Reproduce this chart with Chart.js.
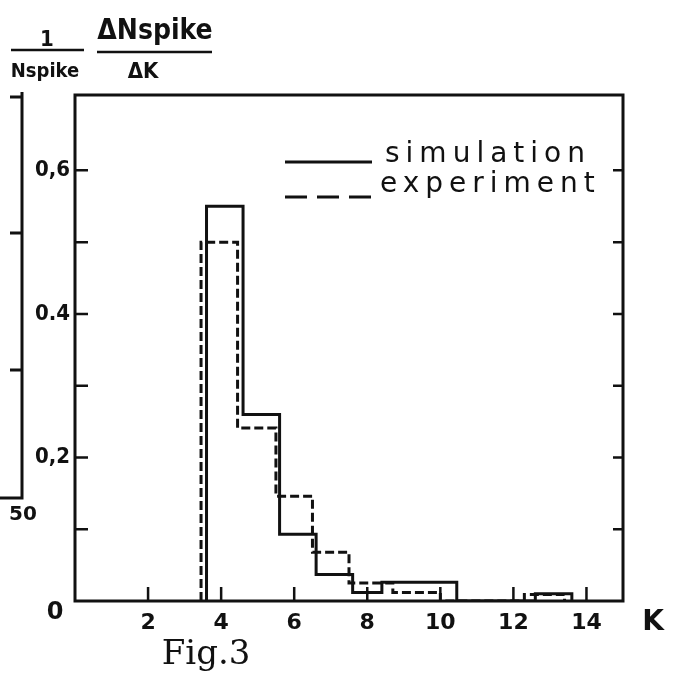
<!DOCTYPE html>
<html>
<head>
<meta charset="utf-8">
<script src="https://cdn.jsdelivr.net/npm/chart.js@4.4.1/dist/chart.umd.min.js"></script>
<style>
    html, body { margin: 0; padding: 0; background: #fff; }
    #chart_box { width: 674px; height: 675px; }
</style>
</head>
<body>
<div id="chart_box"><canvas id="spikeChart" width="674" height="675"></canvas></div>
<script>
// histogram edges (k) and normalised heights
const sim_edges = [3.6, 4.6, 5.6, 6.6, 7.6, 8.4, 10.45, 12.6, 13.6];
const sim_heights = [0.55, 0.26, 0.093, 0.037, 0.012, 0.026, 0, 0.01];
const exp_edges = [3.45, 4.45, 5.5, 6.5, 7.5, 8.7, 10.0, 12.3, 13.4];
const exp_heights = [0.50, 0.241, 0.146, 0.068, 0.025, 0.012, 0, 0.009];

const x_tick_values = [2, 4, 6, 8, 10, 12, 14];
const y_tick_values = [0.2, 0.4, 0.6];
const y_tick_labels = ['0,2', '0.4', '0,6'];
const y_minor_values = [0.1, 0.2, 0.3, 0.4, 0.5, 0.6];
const series_names = ['simulation', 'experiment'];

/**
 * Turn bin edges + heights into outline points for a stepped line
 */
function build_outline(edges, heights) {
    const points = [{ x: edges[0], y: 0 }];
    heights.forEach((h, i) => points.push({ x: edges[i], y: h }));
    points.push({ x: edges[edges.length - 1], y: 0 });
    return points;
}

const ink = '#111';

// frame, inward ticks, legend, titles and the cut-off neighbour panel
const sketch_plugin = {
    id: 'sketch_extras',
    afterDraw(chart) {
        const ctx = chart.ctx;
        const area = chart.chartArea;
        const x_scale = chart.scales.x;
        const y_scale = chart.scales.y;

        ctx.save();
        ctx.strokeStyle = ink;
        ctx.fillStyle = ink;
        ctx.lineCap = 'butt';

        // frame
        ctx.lineWidth = 3;
        ctx.strokeRect(area.left, area.top, area.right - area.left, area.bottom - area.top);

        // inward ticks
        ctx.lineWidth = 2.5;
        ctx.beginPath();
        y_minor_values.forEach(v => {
            const py = y_scale.getPixelForValue(v);
            ctx.moveTo(area.left, py);
            ctx.lineTo(area.left + 13, py);
            ctx.moveTo(area.right, py);
            ctx.lineTo(area.right - 10, py);
        });
        x_tick_values.forEach(v => {
            const px = x_scale.getPixelForValue(v);
            ctx.moveTo(px, area.bottom);
            ctx.lineTo(px, area.bottom - 14);
        });
        ctx.stroke();

        // origin "0" and axis name
        ctx.textAlign = 'center';
        ctx.textBaseline = 'middle';
        ctx.font = 'bold 24px "DejaVu Sans"';
        ctx.fillText('0', area.left - 20, area.bottom + 12);
        ctx.font = 'bold 28px "DejaVu Sans"';
        ctx.fillText('K', 653, area.bottom + 22);

        ctx.font = '34px "DejaVu Serif"';
        ctx.fillText('Fig.3', 206, 655);

        // y-axis title: 1/Nspike * dNspike/dK
        ctx.font = 'bold 22px "DejaVu Sans Condensed"';
        ctx.fillText('1', 47, 40);
        ctx.font = 'bold 20px "DejaVu Sans Condensed"';
        ctx.fillText('Nspike', 45, 72);
        ctx.font = 'bold 28px "DejaVu Sans Condensed"';
        ctx.fillText('\u0394Nspike', 155, 32);
        ctx.font = 'bold 22px "DejaVu Sans Condensed"';
        ctx.fillText('\u0394K', 143, 72);
        ctx.lineWidth = 2.5;
        ctx.beginPath();
        ctx.moveTo(11, 50);
        ctx.lineTo(84, 50);
        ctx.moveTo(97, 52);
        ctx.lineTo(212, 52);
        ctx.stroke();

        // legend
        ctx.lineWidth = 3;
        ctx.beginPath();
        ctx.moveTo(285, 162);
        ctx.lineTo(372, 162);
        ctx.stroke();
        ctx.setLineDash([22, 10]);
        ctx.beginPath();
        ctx.moveTo(285, 197);
        ctx.lineTo(372, 197);
        ctx.stroke();
        ctx.setLineDash([]);
        ctx.textAlign = 'left';
        ctx.textBaseline = 'alphabetic';
        ctx.font = '28px "DejaVu Sans"';
        ctx.letterSpacing = '6px';
        ctx.fillText(series_names[0], 385, 162);
        ctx.fillText(series_names[1], 380, 192);
        ctx.letterSpacing = '0px';

        // edge of the neighbouring panel, cut off on the left
        ctx.lineWidth = 3;
        ctx.beginPath();
        ctx.moveTo(22, 92);
        ctx.lineTo(22, 498);
        ctx.lineTo(0, 498);
        [97, 233, 370].forEach(py => {
            ctx.moveTo(22, py);
            ctx.lineTo(10, py);
        });
        ctx.stroke();
        ctx.textAlign = 'center';
        ctx.textBaseline = 'middle';
        ctx.font = 'bold 20px "DejaVu Sans"';
        ctx.fillText('50', 23, 515);

        ctx.restore();
    }
};

function init_spike_chart(canvas_id) {
    const ctx = document.getElementById(canvas_id).getContext('2d');

    return new Chart(ctx, {
        type: 'line',
        data: {
            datasets: [
                {
                    label: series_names[0],
                    data: build_outline(sim_edges, sim_heights),
                    stepped: 'before',
                    borderColor: ink,
                    borderWidth: 3,
                    pointRadius: 0,
                    fill: false
                },
                {
                    label: series_names[1],
                    data: build_outline(exp_edges, exp_heights),
                    stepped: 'before',
                    borderColor: ink,
                    borderWidth: 3,
                    borderDash: [9, 4],
                    pointRadius: 0,
                    fill: false
                }
            ]
        },
        options: {
            responsive: false,
            animation: false,
            devicePixelRatio: 1,
            layout: {
                padding: { top: 95, right: 51, left: 0, bottom: 0 }
            },
            plugins: {
                legend: { display: false },
                tooltip: { enabled: false },
                title: { display: false }
            },
            scales: {
                x: {
                    type: 'linear',
                    min: 0,
                    max: 15,
                    grid: { display: false, drawTicks: false },
                    border: { display: false },
                    afterBuildTicks: scale => {
                        scale.ticks = x_tick_values.map(v => ({ value: v }));
                    },
                    afterFit: scale => { scale.height = 74; },
                    ticks: {
                        color: ink,
                        padding: 9,
                        maxRotation: 0,
                        font: { family: 'DejaVu Sans', weight: 'bold', size: 22 }
                    }
                },
                y: {
                    type: 'linear',
                    min: 0,
                    max: 0.705,
                    grid: { display: false, drawTicks: false },
                    border: { display: false },
                    afterBuildTicks: scale => {
                        scale.ticks = y_tick_values.map(v => ({ value: v }));
                    },
                    afterFit: scale => { scale.width = 75; },
                    ticks: {
                        color: ink,
                        padding: 5,
                        font: { family: 'DejaVu Sans Condensed', weight: 'bold', size: 22 },
                        callback: value => {
                            const idx = y_tick_values.indexOf(value);
                            return idx >= 0 ? y_tick_labels[idx] : '';
                        }
                    }
                }
            }
        },
        plugins: [sketch_plugin]
    });
}

document.addEventListener('DOMContentLoaded', function() {
    window.spike_chart = init_spike_chart('spikeChart');
});
</script>
</body>
</html>
